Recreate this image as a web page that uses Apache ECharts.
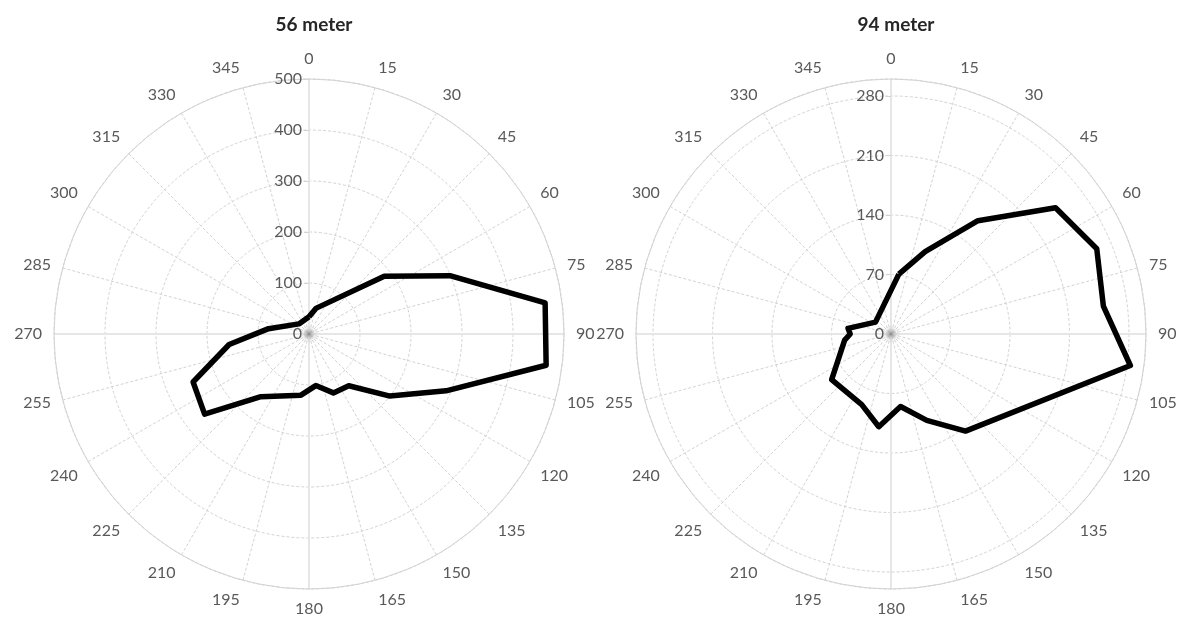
<!DOCTYPE html>
<html>
<head>
<meta charset="utf-8">
<script src="https://cdn.jsdelivr.net/npm/echarts@6/dist/echarts.min.js"></script>
<style>
html,body{margin:0;padding:0;background:#ffffff;}
#chart{width:1184px;height:619px;}
</style>
</head>
<body>
<div id="chart"></div>
<script>
// ---- data ----
const titles = ['56 meter', '94 meter'];

// left panel (56 m): direction in degrees, value
const leftAngles = [0, 15, 52.5, 67.5, 82.5, 97.5, 112.5, 127.5, 142.5, 157.5, 172.5, 187.5, 217.5, 232.5, 247.5, 262.5, 277.5, 315];
const leftValues = [34, 52, 186, 299, 467, 469, 291, 200, 128, 125, 102, 121, 155, 258, 246, 158, 80, 28];

// right panel (94 m)
const rightAngles = [7.5, 22.5, 37.5, 52.5, 67.5, 82.5, 97.5, 142.5, 157.5, 172.5, 187.5, 202.5, 232.5, 262.5, 270, 277.5, 307.5];
const rightValues = [71, 105, 168, 244, 262, 252, 284, 144, 110, 86, 110, 90, 88, 55, 48, 51, 23];

// radial scales
const leftMax = 500, leftStep = 100;
const rightMax = 300, rightStep = 70;
const angleStep = 15;

// ---- layout / style ----
const FONT = 'Lato';
const TXT = '#595959';
const GRID = '#d3d3d3';
const FS = 16;
const centers = [[309, 334], [891, 334]];
const R = 255;

function closed(angles, values) {
  const pts = angles.map((a, i) => [values[i], a]);
  pts.push(pts[0]);
  return pts;
}

// labels that sit near the top/bottom of the circle but off-axis are
// pushed to the side (right-aligned on the left half, left-aligned on the right half)
function angleLabel(v) {
  const s = String(v);
  const w = Math.round(s.length * FS * 0.58);
  const a = ((v % 360) + 360) % 360;
  if (a === 0 || a === 180) return s;
  const sinv = Math.sin(a * Math.PI / 180);
  if (Math.abs(sinv) < 0.3) {
    return sinv < 0 ? '{r' + w + '|' + s + '}' : '{l' + w + '|' + s + '}';
  }
  return s;
}
const rich = {};
[19, 28].forEach(w => {
  rich['r' + w] = {padding: [0, w, 0, 0], fontSize: FS, color: TXT, fontFamily: FONT};
  rich['l' + w] = {padding: [0, 0, 0, w], fontSize: FS, color: TXT, fontFamily: FONT};
});

function angleAxis(idx) {
  return {
    polarIndex: idx, type: 'value', min: 0, max: 360, interval: angleStep,
    startAngle: 90, clockwise: true,
    axisLine: {show: true, lineStyle: {color: GRID, width: 1}},
    axisTick: {show: false},
    axisLabel: {show: true, margin: 12, color: TXT, fontSize: FS, fontFamily: FONT, formatter: angleLabel, rich: rich},
    splitLine: {show: true, lineStyle: {color: GRID, width: 1, type: [3, 2]}}
  };
}
function radiusAxis(idx, max, step) {
  return {
    polarIndex: idx, type: 'value', min: 0, max: max, interval: step,
    axisLine: {show: false},
    axisTick: {show: true, length: 5, lineStyle: {color: GRID}},
    axisLabel: {show: true, margin: 7, color: TXT, fontSize: FS, fontFamily: FONT, showMaxLabel: max % step === 0},
    splitLine: {show: true, lineStyle: {color: GRID, width: 1, type: [3, 2]}}
  };
}
function crossAngle(idx) {
  return {
    polarIndex: idx, type: 'value', min: 0, max: 360, interval: 90, startAngle: 90,
    axisLine: {show: false}, axisTick: {show: false}, axisLabel: {show: false},
    splitLine: {show: true, lineStyle: {color: '#e6e6e6', width: 2, type: 'solid'}}
  };
}
function crossRadius(idx) {
  return {polarIndex: idx, type: 'value', min: 0, max: 1, show: false};
}

const centerDot = {
  type: 'radial', x: 0.5, y: 0.5, r: 0.5,
  colorStops: [{offset: 0, color: 'rgba(90,90,90,0.9)'}, {offset: 0.35, color: 'rgba(150,150,150,0.5)'}, {offset: 1, color: 'rgba(200,200,200,0)'}]
};

const chart = echarts.init(document.getElementById('chart'), null, {renderer: 'canvas'});
chart.setOption({
  animation: false,
  backgroundColor: '#ffffff',
  title: titles.map((t, i) => ({
    text: t, left: centers[i][0], top: 10, textAlign: 'center',
    textStyle: {fontFamily: FONT, fontSize: 19, fontWeight: 'bold', color: '#262626'}
  })),
  polar: [
    {center: centers[0], radius: R},
    {center: centers[1], radius: R},
    {center: centers[0], radius: R},
    {center: centers[1], radius: R}
  ],
  angleAxis: [angleAxis(0), angleAxis(1), crossAngle(2), crossAngle(3)],
  radiusAxis: [radiusAxis(0, leftMax, leftStep), radiusAxis(1, rightMax, rightStep), crossRadius(2), crossRadius(3)],
  series: [
    {type: 'scatter', coordinateSystem: 'polar', polarIndex: 0, data: [[0, 0]], symbolSize: 18, itemStyle: {color: centerDot}, silent: true, z: 1},
    {type: 'scatter', coordinateSystem: 'polar', polarIndex: 1, data: [[0, 0]], symbolSize: 18, itemStyle: {color: centerDot}, silent: true, z: 1},
    {type: 'line', coordinateSystem: 'polar', polarIndex: 0, data: closed(leftAngles, leftValues),
     symbol: 'none', lineStyle: {color: '#000000', width: 5.5, join: 'round'}, z: 5},
    {type: 'line', coordinateSystem: 'polar', polarIndex: 1, data: closed(rightAngles, rightValues),
     symbol: 'none', lineStyle: {color: '#000000', width: 5.5, join: 'round'}, z: 5}
  ]
});
</script>
</body>
</html>
